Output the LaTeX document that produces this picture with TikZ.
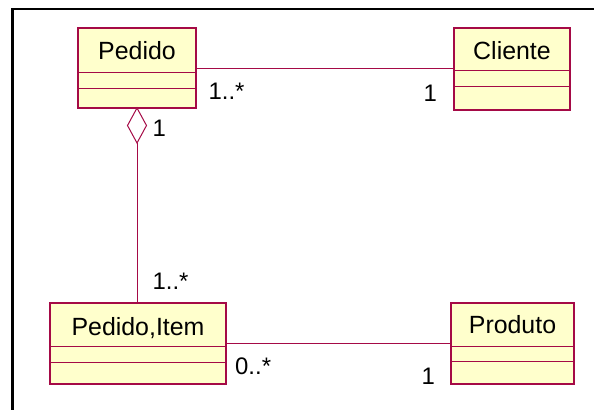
\documentclass[tikz,border=0pt]{standalone}
\usepackage{fontspec}
\setmainfont{Liberation Sans}
\usetikzlibrary{shapes.geometric,calc}
\definecolor{umlline}{RGB}{165,10,70}
\definecolor{umlfill}{RGB}{255,255,204}

% UML class: #1 name, (#2,#3) centre, #4 width, #5 height,
% #6/#7 divider offsets from top, #8 baseline of title, #9 title
\newcommand\umlclass[9]{%
  \node[classbox, minimum width=#4bp, minimum height=#5bp] (#1) at (#2,#3) {};
  \draw[divider] ($(#1.north west)+(0,#6)$) -- ($(#1.north east)+(0,#6)$);
  \draw[divider] ($(#1.north west)+(0,#7)$) -- ($(#1.north east)+(0,#7)$);
  \node[classname] (#1title) at (#2,#8) {#9};
}

\begin{document}
\begin{tikzpicture}[x=1bp,y=-1bp,
  classbox/.style={rectangle, draw=umlline, fill=umlfill, line width=1.3bp, inner sep=0pt, outer sep=0pt},
  classname/.style={anchor=base, inner sep=0pt, font=\fontsize{25}{30}\selectfont},
  mult/.style={anchor=base west, inner sep=0pt, font=\fontsize{24}{28}\selectfont},
  assoc/.style={draw=umlline, line width=0.9bp},
  divider/.style={draw=umlline, line width=0.9bp},
  aggr/.style={diamond, draw=umlline, fill=white, line width=1bp, inner sep=0pt, outer sep=0pt,
               minimum width=19bp, minimum height=35bp}]
  \useasboundingbox (0,0) rectangle (594,409);

  % frame
  \draw[line width=2.8bp] (12.5,420) -- (12.5,9) -- (600,9);

  % classes
  \umlclass{pedido}{137}{68}{118}{80}{44}{60}{59}{Pedido}
  \umlclass{cliente}{512}{69}{116}{82}{42}{58}{59}{Cliente}
  \umlclass{pedidoitem}{138}{343.5}{176}{81}{43}{59}{335}{Pedido,Item}
  \umlclass{produto}{512.5}{343.5}{123}{81}{43}{58}{333}{Produto}

  % associations
  \draw[assoc] (pedido.east) -- (pedido.east -| cliente.west);
  \draw[assoc] (pedidoitem.east) -- (pedidoitem.east -| produto.west);

  % aggregation Pedido <>-- Pedido,Item
  \node[aggr, anchor=north] (agg) at (pedido.south) {};
  \draw[assoc] (agg.south) -- (agg.south |- pedidoitem.north);

  % multiplicities
  \node[mult] (m1) at (208.4,99) {1..*};
  \node[mult] (m2) at (423.4,101) {1};
  \node[mult] (m3) at (152.4,136) {1};
  \node[mult] (m4) at (152.4,289) {1..*};
  \node[mult] (m5) at (235,374) {0..*};
  \node[mult] (m6) at (421.4,384) {1};
\end{tikzpicture}
\end{document}
